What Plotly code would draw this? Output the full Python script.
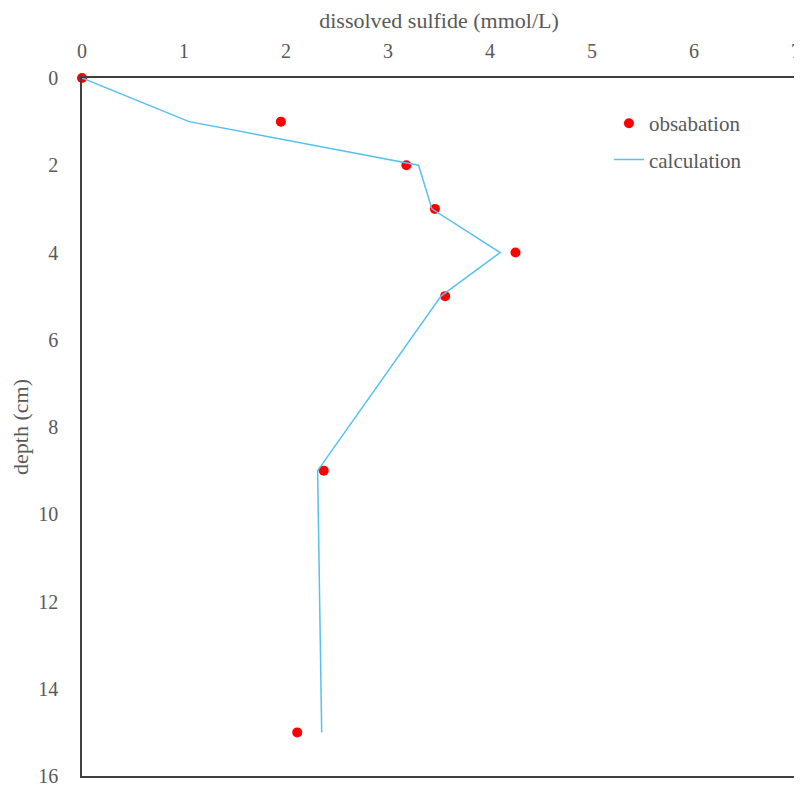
import plotly.graph_objects as go

depth_obs = [0, 1, 2, 3, 4, 5, 9, 15]
sulfide_obs = [0.0, 1.95, 3.18, 3.46, 4.25, 3.56, 2.37, 2.11]

depth_calc = [0, 1, 2, 3, 4, 5, 9, 15]
sulfide_calc = [0.0, 1.05, 3.30, 3.43, 4.10, 3.52, 2.31, 2.35]

x_ticks = [0, 1, 2, 3, 4, 5, 6, 7]
y_ticks = [0, 2, 4, 6, 8, 10, 12, 14, 16]

font_family = "Liberation Serif, Times New Roman, serif"
grey = "#595959"

fig = go.Figure()
fig.add_trace(go.Scatter(
    x=sulfide_obs, y=depth_obs, mode="markers", name="obsabation",
    legendgroup="a",
    marker=dict(color="#FF0000", size=10),
    cliponaxis=False,
))
fig.add_trace(go.Scatter(
    x=sulfide_calc, y=depth_calc, mode="lines", name="calculation",
    legendgroup="b",
    line=dict(color="#56C1EE", width=1.5),
))

# page body has an 8px default margin, so the figure is 8px smaller
fig.update_layout(
    width=794, height=779,
    margin=dict(l=74, r=6, t=70, b=11),
    plot_bgcolor="white", paper_bgcolor="white",
    font=dict(family=font_family, color=grey, size=20),
    showlegend=True,
    legend=dict(x=0.738, y=0.964, xanchor="left", yanchor="top",
                bgcolor="rgba(0,0,0,0)", font=dict(family=font_family, size=21, color=grey),
                itemwidth=30, traceorder="grouped", tracegroupgap=6),
    xaxis=dict(
        side="top", range=[0, 7], tickvals=x_ticks, ticks="",
        showgrid=False, zeroline=False, automargin=False,
        showline=True, linecolor="#404040", linewidth=1.5, mirror=True,
        ticklabelstandoff=10, ticklabeloverflow="allow",
        title=dict(text="dissolved sulfide (mmol/L)", font=dict(family=font_family, size=22, color=grey), standoff=7),
        tickfont=dict(family=font_family, size=20, color=grey),
    ),
    yaxis=dict(
        range=[16, 0], tickvals=y_ticks, ticks="",
        showgrid=False, zeroline=False, automargin=False,
        showline=True, linecolor="#404040", linewidth=1.5, mirror=True,
        ticklabelstandoff=18, ticklabeloverflow="allow",
        title=dict(text="depth (cm)", font=dict(family=font_family, size=22, color=grey), standoff=4),
        tickfont=dict(family=font_family, size=20, color=grey),
    ),
)

fig.write_html("out.html")
